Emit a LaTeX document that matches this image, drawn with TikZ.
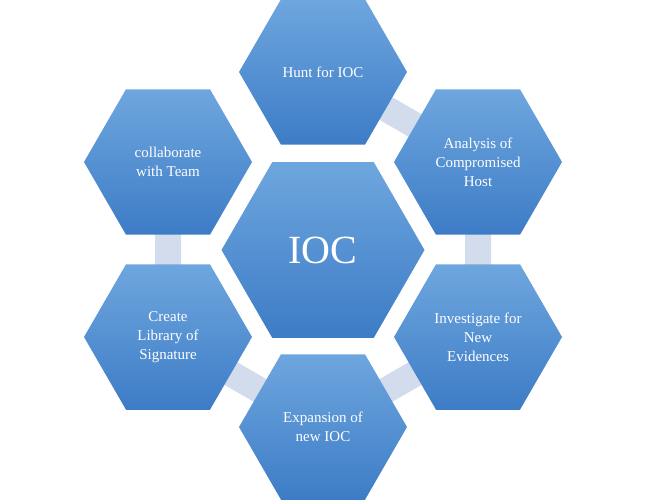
\documentclass[tikz,border=0pt]{standalone}
\usepackage{fontspec}
\setmainfont{Liberation Serif}
\usetikzlibrary{shapes.geometric}
\definecolor{hextop}{HTML}{6EA6DE}
\definecolor{hexbot}{HTML}{3D7CC6}
\definecolor{barcol}{HTML}{D3DCEC}
\begin{document}
\begin{tikzpicture}[x=1pt,y=-1pt,
every node/.style={regular polygon,
regular polygon sides=6,
inner sep=0pt,
minimum size=168pt,
top color=hextop,
bottom color=hexbot,
text=white,
align=center,
font=\fontsize{15}{19}\selectfont
},
core/.style={%
minimum size=203pt,
font=\fontsize{40}{44}\selectfont
},
bar/.style={%
draw=barcol,
line width=26pt
}]
\useasboundingbox (0,0) rectangle (647,500);
\coordinate (top) at (323,72);
\coordinate (ur) at (478,162);
\coordinate (lr) at (478,337);
\coordinate (bot) at (323,427);
\coordinate (ll) at (168,337);
\coordinate (ul) at (168,162);
\draw[bar] (top)--(ur)--(lr)--(bot)--(ll)--(ul);
\node[core]at(323,250)(ioc){IOC};
\node[]at(top)(hunt){Hunt for IOC};
\node[]at(ur)(anal){Analysis of\\Compromised\\Host};
\node[]at(lr)(inv){Investigate for\\New\\Evidences};
\node[]at(bot)(exp){Expansion of\\new IOC};
\node[]at(ll)(lib){Create\\Library of\\Signature};
\node[]at(ul)(team){collaborate\\with Team};
\end{tikzpicture}
\end{document}
